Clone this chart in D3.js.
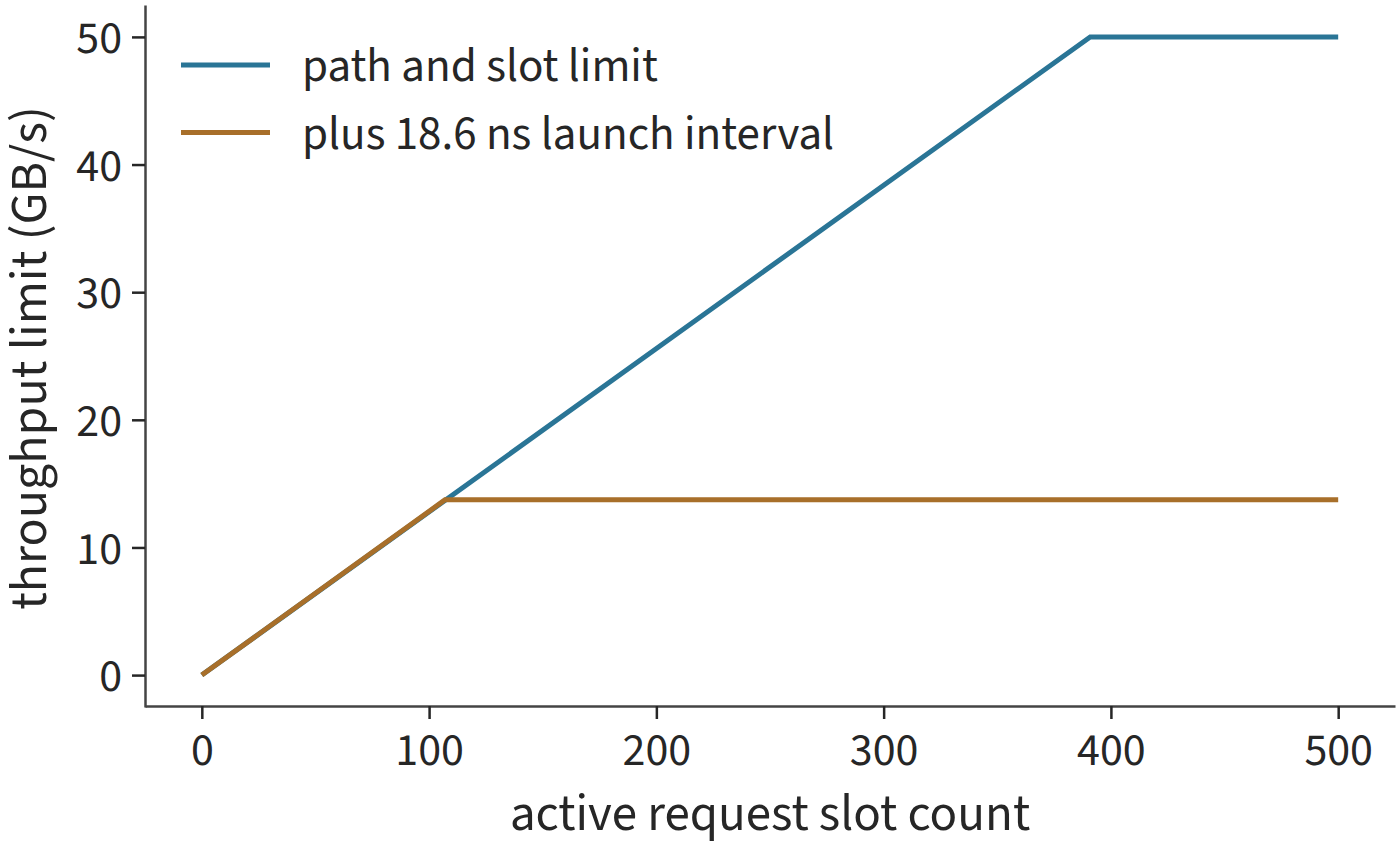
<!DOCTYPE html>
<html>
<head>
<meta charset="utf-8">
<script src="https://cdn.jsdelivr.net/npm/d3@7"></script>
<style>
  body { margin: 0; background: #fff; }
  svg { display: block; }
  svg text { font-family: "Source Sans 3", "Source Sans Pro", "Noto Sans", sans-serif; }
</style>
</head>
<body>
<svg id="chart" width="1400" height="847"></svg>
<script>
// series
const slotLimitX = [0, 390.9, 500];
const slotLimitY = [0, 50, 50];
const launchX = [0, 107, 500];
const launchY = [0, 13.73, 13.73];

const xTicks = [0, 100, 200, 300, 400, 500];
const yTicks = [0, 10, 20, 30, 40, 50];

const seriesNames = ["path and slot limit", "plus 18.6 ns launch interval"];
const seriesColors = ["#2a7596", "#a86f2a"];

const svg = d3.select("#chart");

const x = d3.scaleLinear().domain([-25, 525]).range([145, 1395]);
const y = d3.scaleLinear().domain([-2.5, 52.5]).range([707, 5]);

const textColor = "#262626";
const fontStack = '"Source Sans 3", "Source Sans Pro", "Noto Sans", sans-serif';

// lines
const line = d3.line()
  .x(d => x(d[0]))
  .y(d => y(d[1]));

const series = [
  d3.zip(slotLimitX, slotLimitY),
  d3.zip(launchX, launchY)
];

svg.selectAll(".series")
  .data(series)
  .enter()
  .append("path")
  .attr("class", "series")
  .attr("fill", "none")
  .attr("stroke", (d, i) => seriesColors[i])
  .attr("stroke-width", 5)
  .attr("stroke-linejoin", "miter")
  .attr("d", line);

// axes
const xAxis = svg.append("g")
  .attr("transform", `translate(0,${y.range()[0] - 1})`)
  .call(d3.axisBottom(x).tickValues(xTicks).tickSize(13).tickPadding(10).tickSizeOuter(0));

const yAxis = svg.append("g")
  .attr("transform", `translate(${x.range()[0]},0)`)
  .call(d3.axisLeft(y).tickValues(yTicks).tickSize(13).tickPadding(10).tickSizeOuter(0));

[xAxis, yAxis].forEach(g => {
  g.attr("font-family", fontStack).attr("font-size", 46);
  g.select(".domain").attr("stroke", "#444").attr("stroke-width", 2.5);
  g.selectAll(".tick line").attr("stroke", textColor).attr("stroke-width", 2.5);
  g.selectAll(".tick text").attr("fill", textColor);
});
xAxis.selectAll(".tick text").attr("dy", "0.78em");
yAxis.selectAll(".tick text").attr("dy", "0.34em");

// axis labels
svg.append("text")
  .attr("x", 770)
  .attr("y", 830)
  .attr("text-anchor", "middle")
  .attr("fill", textColor)
  .style("font-size", "51px")
  .text("active request slot count");

svg.append("text")
  .attr("transform", "translate(46,358) rotate(-90)")
  .attr("text-anchor", "middle")
  .attr("fill", textColor)
  .style("font-size", "52px")
  .text("throughput limit (GB/s)");

// legend
const legend = svg.append("g")
  .attr("transform", "translate(181,65)");

const item = legend.selectAll(".item")
  .data(seriesNames)
  .enter()
  .append("g")
  .attr("class", "item")
  .attr("transform", (d, i) => `translate(0,${i * 67.5})`);

item.append("line")
  .attr("x1", 0)
  .attr("x2", 89)
  .attr("stroke", (d, i) => seriesColors[i])
  .attr("stroke-width", 5);

item.append("text")
  .attr("x", 121)
  .attr("dy", "0.35em")
  .attr("fill", textColor)
  .style("font-size", "47px")
  .text(d => d);
</script>
</body>
</html>
